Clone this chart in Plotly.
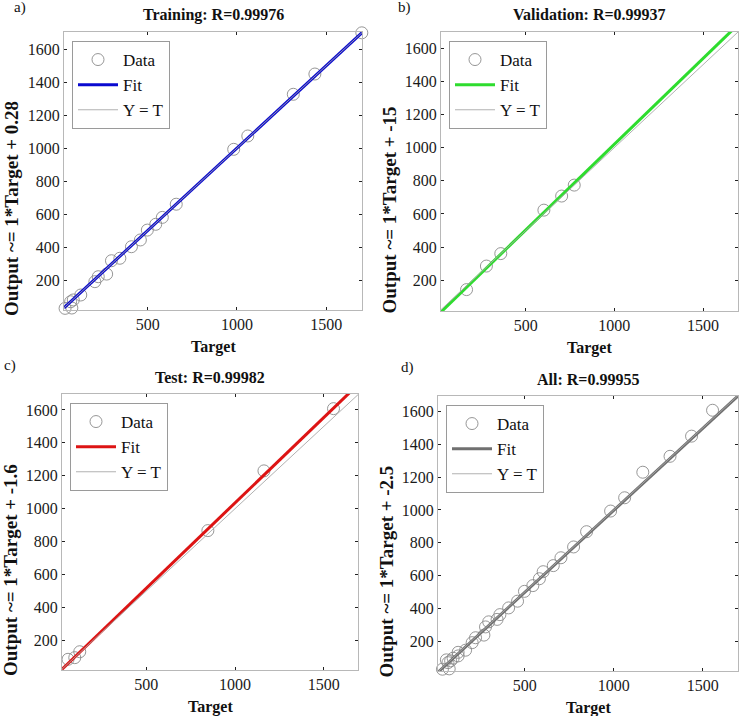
import plotly.graph_objects as go

# ---------------- data ----------------
train_target = [37, 75, 68, 83, 125, 204, 223, 270, 297, 344, 409, 459, 498, 545, 582, 660, 982, 1061, 1316, 1437, 1700]
train_output = [28, 30, 68, 79, 109, 190, 220, 236, 317, 332, 402, 443, 503, 538, 580, 660, 993, 1074, 1327, 1450, 1700]

val_target = [167, 279, 360, 603, 703, 774]
val_output = [144, 286, 361, 623, 708, 774]

test_target = [59, 97, 125, 847, 1163, 1555]
test_output = [85, 95, 131, 867, 1230, 1608]

all_target = train_target + val_target + test_target
all_output = train_output + val_output + test_output

panel_names = ["Training", "Validation", "Test", "All"]
panel_letters = ["a)", "b)", "c)", "d)"]
r_values = ["0.99976", "0.99937", "0.99982", "0.99955"]
fit_slope = [1.0, 1.035, 1.037, 1.0]
fit_intercept = [0.28, -15, -1.6, -2.5]
fit_labels = ["0.28", "-15", "-1.6", "-2.5"]
fit_colors = ["#0a0ad0", "#2edc2e", "#dd1414", "#707070"]

x_ticks = [500, 1000, 1500]
y_ticks = [200, 400, 600, 800, 1000, 1200, 1400, 1600]

# ---------------- layout geometry (pixels) ----------------
W, H = 740, 716
boxes = [  # x0, x1, y0(top), y1(bottom)
    (64, 362, 32, 310),
    (441, 738, 32, 311),
    (62, 358, 394, 670),
    (438, 738, 396, 671),
]
x_ranges = [[31, 1701], [23, 1697], [25, 1693], [12, 1698]]
y_ranges = [[18, 1705], [15, 1697], [20, 1697], [17, 1695]]
datasets = [
    (train_target, train_output),
    (val_target, val_output),
    (test_target, test_output),
    (all_target, all_output),
]

SERIF = "Liberation Serif, Times New Roman, serif"


def px_x(p):
    return p / W


def px_y(p):
    return 1 - p / H


fig = go.Figure()
annotations = []

for i in range(4):
    x0, x1, y0, y1 = boxes[i]
    xa = "x" if i == 0 else f"x{i + 1}"
    ya = "y" if i == 0 else f"y{i + 1}"
    leg = "legend" if i == 0 else f"legend{i + 1}"
    t, o = datasets[i]
    xr = x_ranges[i]

    fig.add_trace(go.Scatter(
        x=t, y=o, mode="markers", name="Data",
        marker=dict(symbol="circle-open", size=12, color="#8a8a8a",
                    line=dict(width=0.9, color="#8a8a8a")),
        xaxis=xa, yaxis=ya, legend=leg, cliponaxis=False,
    ))
    fig.add_trace(go.Scatter(
        x=xr, y=[fit_slope[i] * v + fit_intercept[i] for v in xr],
        mode="lines", name="Fit",
        line=dict(color=fit_colors[i], width=3),
        xaxis=xa, yaxis=ya, legend=leg,
    ))
    fig.add_trace(go.Scatter(
        x=xr, y=xr, mode="lines", name="Y = T",
        line=dict(color="#a8a8a8", width=0.9),
        xaxis=xa, yaxis=ya, legend=leg,
    ))

    axis_common = dict(
        showline=True, linecolor="#b8b8b8", linewidth=1, mirror="allticks",
        ticks="inside", ticklen=3, tickcolor="#222222", tickwidth=1,
        showgrid=False, zeroline=False,
        tickfont=dict(family=SERIF, size=16, color="#1a1a1a"),
    )
    fig.layout[f"xaxis{'' if i == 0 else i + 1}"] = dict(
        axis_common, domain=[px_x(x0), px_x(x1)], range=xr,
        tickvals=x_ticks, anchor=ya,
    )
    fig.layout[f"yaxis{'' if i == 0 else i + 1}"] = dict(
        axis_common, domain=[px_y(y1), px_y(y0)], range=y_ranges[i],
        tickvals=y_ticks, anchor=xa,
    )

    fig.layout[leg] = dict(
        x=px_x(x0 + 8), y=px_y(y0 + 9), xanchor="left", yanchor="top",
        bgcolor="white", bordercolor="#9a9a9a", borderwidth=1,
        font=dict(family=SERIF, size=17, color="#111111"),
        itemwidth=40, tracegroupgap=0,
    )

    cx = (x0 + x1) / 2
    # title
    annotations.append(dict(
        text=f"<b>{panel_names[i]}: R={r_values[i]}</b>",
        x=px_x(cx), y=px_y(y0 - 17), xref="paper", yref="paper",
        showarrow=False, xanchor="center", yanchor="middle",
        font=dict(family=SERIF, size=16, color="#111111"),
    ))
    # x label
    annotations.append(dict(
        text="<b>Target</b>",
        x=px_x(cx), y=px_y(y1 + 37), xref="paper", yref="paper",
        showarrow=False, xanchor="center", yanchor="middle",
        font=dict(family=SERIF, size=16, color="#111111"),
    ))
    # y label
    annotations.append(dict(
        text=f"<b>Output ~= 1*Target + {fit_labels[i]}</b>",
        x=px_x(x0 - 52), y=px_y((y0 + y1) / 2 + 38), xref="paper", yref="paper",
        showarrow=False, xanchor="center", yanchor="middle", textangle=-90,
        font=dict(family=SERIF, size=19, color="#111111"),
    ))

# panel letters
letter_pos = [(20, 8), (404, 8), (10, 365), (407, 367)]
for i, (lx, ly) in enumerate(letter_pos):
    annotations.append(dict(
        text=panel_letters[i], x=px_x(lx), y=px_y(ly), xref="paper", yref="paper",
        showarrow=False, xanchor="center", yanchor="middle",
        font=dict(family=SERIF, size=15, color="#111111"),
    ))

fig.update_layout(
    width=W, height=H, margin=dict(l=0, r=0, t=0, b=0),
    paper_bgcolor="white", plot_bgcolor="white",
    annotations=annotations, showlegend=True,
)

fig.write_html(
    "out.html",
    config={"displayModeBar": False},
    post_script="document.body.style.margin='0';document.body.style.overflow='hidden';",
)
